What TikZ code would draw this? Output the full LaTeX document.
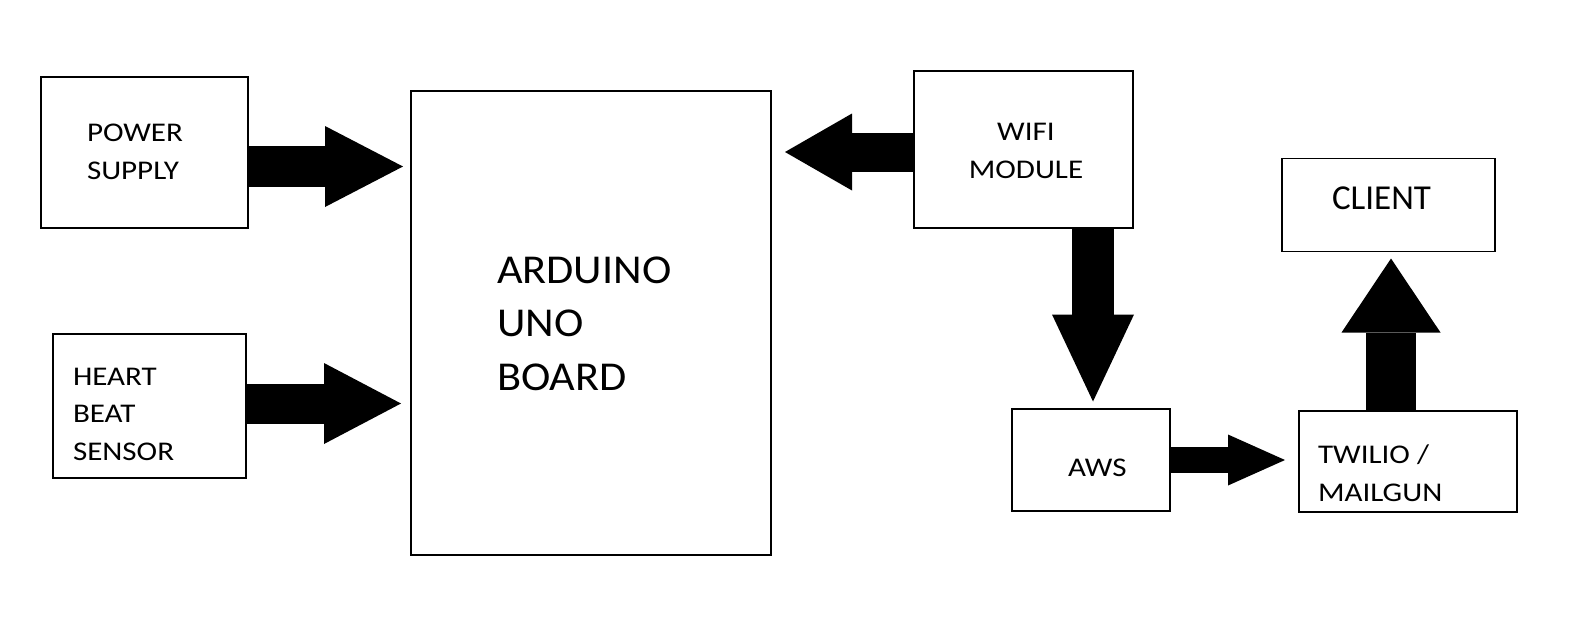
\documentclass[tikz,border=0pt]{standalone}
\usepackage{fontspec}
\setmainfont{Carlito}
\newfontfamily\labelfont{Carlito}[FakeStretch=1.15]
\newfontfamily\ardfont{Carlito}[FakeStretch=1.08]
\usetikzlibrary{arrows.meta}
\tikzset{
  box/.style={draw, line width=1pt, rectangle, inner sep=0pt, outer sep=0pt},
  thinbox/.style={box, line width=0.65pt},
  lbl/.style={inner sep=0pt, outer sep=0pt, anchor=base west, align=left,
    font=\labelfont\fontsize{13.5pt}{18.75pt}\selectfont},
  barrow/.style n args={4}{line width=#1,
    -{Triangle[length=#3, width=#2, line width=0pt]},
    shorten >=#4},
}
\begin{document}
\begin{tikzpicture}[x=0.5pt, y=-0.5pt]
\useasboundingbox (0,0) rectangle (1578,633);
\fill[white] (0,0) rectangle (1578,633);
% boxes
\node[box, minimum width=103.5pt, minimum height=75.5pt] (ps) at (144.5,152.5) {};
\node[box, minimum width=96.5pt, minimum height=72pt] (hb) at (149.5,406) {};
\node[thinbox, minimum width=180pt, minimum height=232pt] (ard) at (591,323) {};
\node[box, minimum width=109.5pt, minimum height=78.5pt] (wifi) at (1023,149.5) {};
\node[thinbox, minimum width=106.5pt, minimum height=46.5pt] (client) at (1388.5,205) {};
\node[box, minimum width=79pt, minimum height=51pt] (aws) at (1091,459.5) {};
\node[box, minimum width=109pt, minimum height=50.5pt] (tw) at (1408,461.5) {};
% labels (base anchor = baseline of the last line)
\node[lbl] (pst) at (87,179) {POWER\\SUPPLY};
\node[lbl] (hbt) at (73,460) {HEART\\BEAT\\SENSOR};
\node[lbl, font=\ardfont\fontsize{20.5pt}{26.75pt}\selectfont] (ardt) at (497,390) {ARDUINO\\UNO\\BOARD};
\node[lbl, anchor=base, align=center] (wifit) at (1026,178) {WIFI\\MODULE};
\node[lbl, font=\fontsize{17.5pt}{21pt}\selectfont] (clientt) at (1332,209) {CLIENT};
\node[lbl] (awst) at (1068,476) {AWS};
\node[lbl] (twt) at (1318,501) {TWILIO /\\MAILGUN};
% connectors
\coordinate (y1) at (0,166.5);
\coordinate (y2) at (0,403.5);
\coordinate (y3) at (0,152);
\coordinate (x4) at (1093,0);
\coordinate (y5) at (0,460);
\coordinate (x6) at (1391,0);
\draw[barrow={20.5pt}{40.5pt}{39pt}{4pt}] (ps.east |- y1) -- (ard.west |- y1);
\draw[barrow={20pt}{40.5pt}{38.5pt}{5pt}] (hb.east |- y2) -- (ard.west |- y2);
\draw[barrow={19.5pt}{38.5pt}{33.5pt}{7pt}] (wifi.west |- y3) -- (ard.east |- y3);
\draw[barrow={21pt}{41pt}{43.5pt}{3.5pt}] (wifi.south -| x4) -- (aws.north -| x4);
\draw[barrow={13pt}{25.5pt}{28.5pt}{7pt}] (aws.east |- y5) -- (tw.west |- y5);
\draw[barrow={25pt}{49.5pt}{37pt}{3.5pt}] (tw.north -| x6) -- (client.south -| x6);
\end{tikzpicture}
\end{document}
